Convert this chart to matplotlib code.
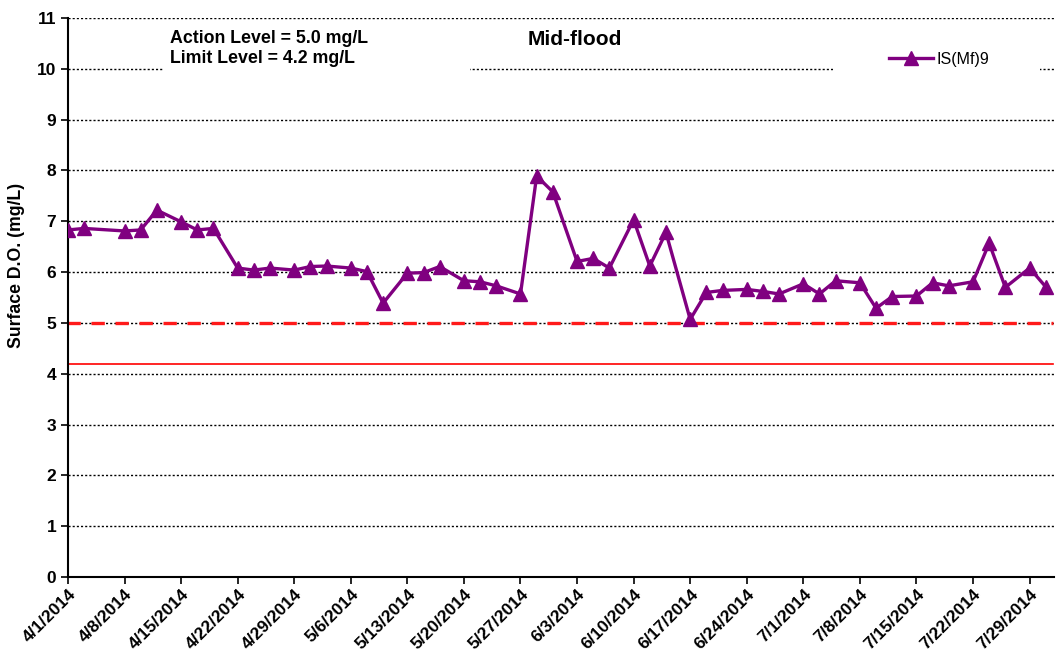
import matplotlib
matplotlib.use("Agg")
import matplotlib.pyplot as plt
import matplotlib.dates as mdates
from matplotlib.patches import Rectangle
from matplotlib.ticker import FuncFormatter
from datetime import datetime, timedelta

plt.rcParams['font.family'] = ['Liberation Sans', 'DejaVu Sans']

# sampling dates and surface DO readings (mg/L)
dates = ['2014-04-01', '2014-04-03', '2014-04-08', '2014-04-10', '2014-04-12',
         '2014-04-15', '2014-04-17', '2014-04-19', '2014-04-22', '2014-04-24',
         '2014-04-26', '2014-04-29', '2014-05-01', '2014-05-03', '2014-05-06',
         '2014-05-08', '2014-05-10', '2014-05-13', '2014-05-15', '2014-05-17',
         '2014-05-20', '2014-05-22', '2014-05-24', '2014-05-27', '2014-05-29',
         '2014-05-31', '2014-06-03', '2014-06-05', '2014-06-07', '2014-06-10',
         '2014-06-12', '2014-06-14', '2014-06-17', '2014-06-19', '2014-06-21',
         '2014-06-24', '2014-06-26', '2014-06-28', '2014-07-01', '2014-07-03',
         '2014-07-05', '2014-07-08', '2014-07-10', '2014-07-12', '2014-07-15',
         '2014-07-17', '2014-07-19', '2014-07-22', '2014-07-24', '2014-07-26',
         '2014-07-29', '2014-07-31']
do_values = [6.83, 6.86, 6.81, 6.83, 7.22, 6.99, 6.83, 6.86, 6.08, 6.04,
             6.08, 6.04, 6.11, 6.12, 6.08, 6.01, 5.39, 5.98, 5.99, 6.11,
             5.83, 5.81, 5.73, 5.57, 7.89, 7.58, 6.21, 6.27, 6.08, 7.03,
             6.12, 6.78, 5.07, 5.60, 5.64, 5.66, 5.62, 5.57, 5.77, 5.57,
             5.83, 5.79, 5.29, 5.52, 5.53, 5.79, 5.73, 5.81, 6.57, 5.70,
             6.08, 5.71]
station = "IS(Mf)9"

action_level = 5.0
limit_level = 4.2
level_span = ['2014-03-31 20:00', '2014-07-31 21:00']

x_start = '2014-04-01'
x_end = '2014-08-01'
y_ticks = list(range(0, 12))

x = [datetime.strptime(d, '%Y-%m-%d') for d in dates]
span = [datetime.strptime(d, '%Y-%m-%d %H:%M') for d in level_span]
day0 = datetime.strptime(x_start, '%Y-%m-%d')

fig = plt.figure(figsize=(10.57, 6.55), dpi=100)
ax = fig.add_axes([0.0643, 0.119, 0.9327, 0.8535])

# dotted grid
for yv in y_ticks[1:]:
    ax.axhline(yv, color='black', lw=1.0, linestyle=(0, (1.5, 1.5)), zorder=1)

# white boxes behind the text block and the legend (they hide the grid like in excel)
ax.add_patch(Rectangle((0.0963, 0.896), 0.3114, 0.093, transform=ax.transAxes,
                       fc='white', ec='none', zorder=3))
ax.add_patch(Rectangle((0.7759, 0.871), 0.2099, 0.086, transform=ax.transAxes,
                       fc='white', ec='none', zorder=3))

# levels
ax.plot(span, [action_level, action_level], color='#FF1A1A', lw=2.4,
        linestyle=(0, (4, 3.2)), zorder=2)
ax.plot(span, [limit_level, limit_level], color='#FF0000', lw=1.2, zorder=2)

ax.plot(x, do_values, color='#800080', lw=2.4, marker='^', markersize=9.5,
        label=station, zorder=4)

ax.set_xlim(day0, datetime.strptime(x_end, '%Y-%m-%d'))
ax.set_ylim(0, 11)
ax.set_yticks(y_ticks)
ax.set_xticks([day0 + timedelta(days=7 * i) for i in range(18)])
ax.xaxis.set_major_formatter(FuncFormatter(
    lambda v, p: (lambda d: f"{d.month}/{d.day}/{d.year}")(mdates.num2date(v))))

for lbl in ax.get_xticklabels():
    lbl.set_rotation(45)
    lbl.set_ha('right')
    lbl.set_rotation_mode('anchor')
    lbl.set_fontweight('bold')
    lbl.set_fontsize(12.5)
for lbl in ax.get_yticklabels():
    lbl.set_fontweight('bold')
    lbl.set_fontsize(12.5)

ax.tick_params(axis='both', direction='out', length=5, width=1.2, colors='black')
ax.tick_params(axis='x', pad=2)
ax.spines['top'].set_visible(False)
ax.spines['right'].set_visible(False)
ax.spines['left'].set_linewidth(1.5)
ax.spines['bottom'].set_linewidth(1.5)

ax.set_ylabel("Surface D.O. (mg/L)", fontsize=12.7, fontweight='bold')
ax.yaxis.set_label_coords(-0.0436, 0.558)

ax.text(0.104, 0.9547, "Action Level = 5.0 mg/L", transform=ax.transAxes,
        fontsize=12.8, fontweight='bold', va='baseline', ha='left', zorder=5)
ax.text(0.104, 0.919, "Limit Level = 4.2 mg/L", transform=ax.transAxes,
        fontsize=12.8, fontweight='bold', va='baseline', ha='left', zorder=5)
ax.text(0.5142, 0.9513, "Mid-flood", transform=ax.transAxes, fontsize=15,
        fontweight='bold', va='baseline', ha='center', zorder=5)

leg = ax.legend(loc='center left', bbox_to_anchor=(0.8327, 0.9261), frameon=False,
                fontsize=11.5, handlelength=2.75, borderpad=0, borderaxespad=0,
                handletextpad=0.25)
leg.set_zorder(6)

fig.savefig("out.png", dpi=100)
